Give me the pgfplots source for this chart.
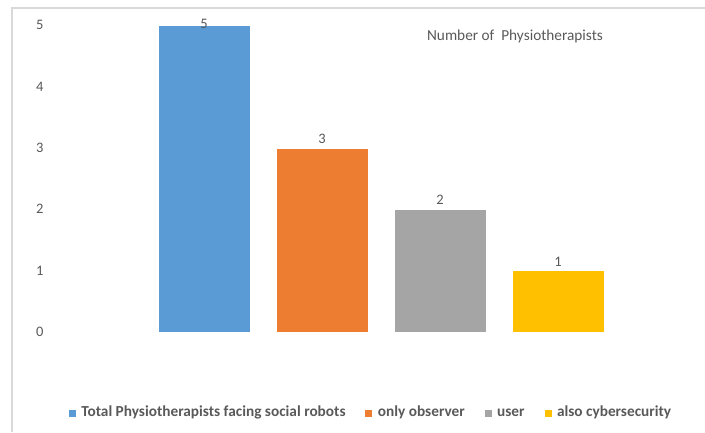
\documentclass[border=0pt]{standalone}
\usepackage{fontspec}
\setmainfont{Carlito}
\usepackage{pgfplots}
\pgfplotsset{compat=1.18}

\definecolor{cblue}{HTML}{5B9BD5}
\definecolor{corange}{HTML}{ED7D31}
\definecolor{cgray}{HTML}{A5A5A5}
\definecolor{cgold}{HTML}{FFC000}
\definecolor{ctext}{HTML}{595959}
\definecolor{cframe}{HTML}{D9D9D9}

\begin{document}
\begin{tikzpicture}[x=1pt,y=1pt]
  % canvas and chart frame
  \path[use as bounding box] (0,0) rectangle (705,432);
  \draw[cframe, line width=1.2pt] (12,0) -- (12,424) -- (705,424);

  \begin{axis}[
    at={(97.8pt,100pt)}, anchor=south west,
    scale only axis,
    width=566.4pt, height=307pt,
    xmin=-0.9, xmax=3.9,
    ymin=0, ymax=5,
    axis line style={draw=none},
    major tick length=0pt,
    xtick=\empty,
    ytick={0,1,2,3,4,5},
    /pgf/number format/assume math mode=true,
    yticklabel style={font=\fontsize{14.5}{16}\selectfont, text=ctext,
                      anchor=center, xshift=-58pt},
    clip=false,
    title={Number of\ \ Physiotherapists},
    title style={at={(0.7366,0.9446)}, anchor=center,
                 font=\fontsize{15.3}{17}\selectfont, text=ctext},
    ybar, bar width=92pt,
    nodes near coords,
    every node near coord/.append style={font=\fontsize{14.5}{16}\selectfont,
                                         text=ctext, yshift=1pt},
    legend columns=4,
    legend style={draw=none, fill=none,
                  at={(0.4815,-0.267)}, anchor=center,
                  font=\bfseries\fontsize{15.3}{17}\selectfont,
                  text=ctext,
                  nodes={text height=0.72em, text depth=0.22em},
                  /tikz/every odd column/.append style={column sep=3pt},
                  /tikz/every even column/.append style={column sep=17pt}},
    legend image code/.code={
      \fill[#1] (0pt,-3pt) rectangle (8pt,5pt);
    },
  ]
    \addplot[fill=cblue, draw=white, bar shift=0pt,
             every node near coord/.append style={yshift=-8pt}]
      coordinates {(0,5)};
    \addlegendentry{Total Physiotherapists facing social robots}
    \addplot[fill=corange, draw=white, bar shift=0pt]
      coordinates {(1,3)};
    \addlegendentry{only observer}
    \addplot[fill=cgray, draw=white, bar shift=0pt]
      coordinates {(2,2)};
    \addlegendentry{user}
    \addplot[fill=cgold, draw=white, bar shift=0pt]
      coordinates {(3,1)};
    \addlegendentry{also cybersecurity}
  \end{axis}
\end{tikzpicture}
\end{document}
